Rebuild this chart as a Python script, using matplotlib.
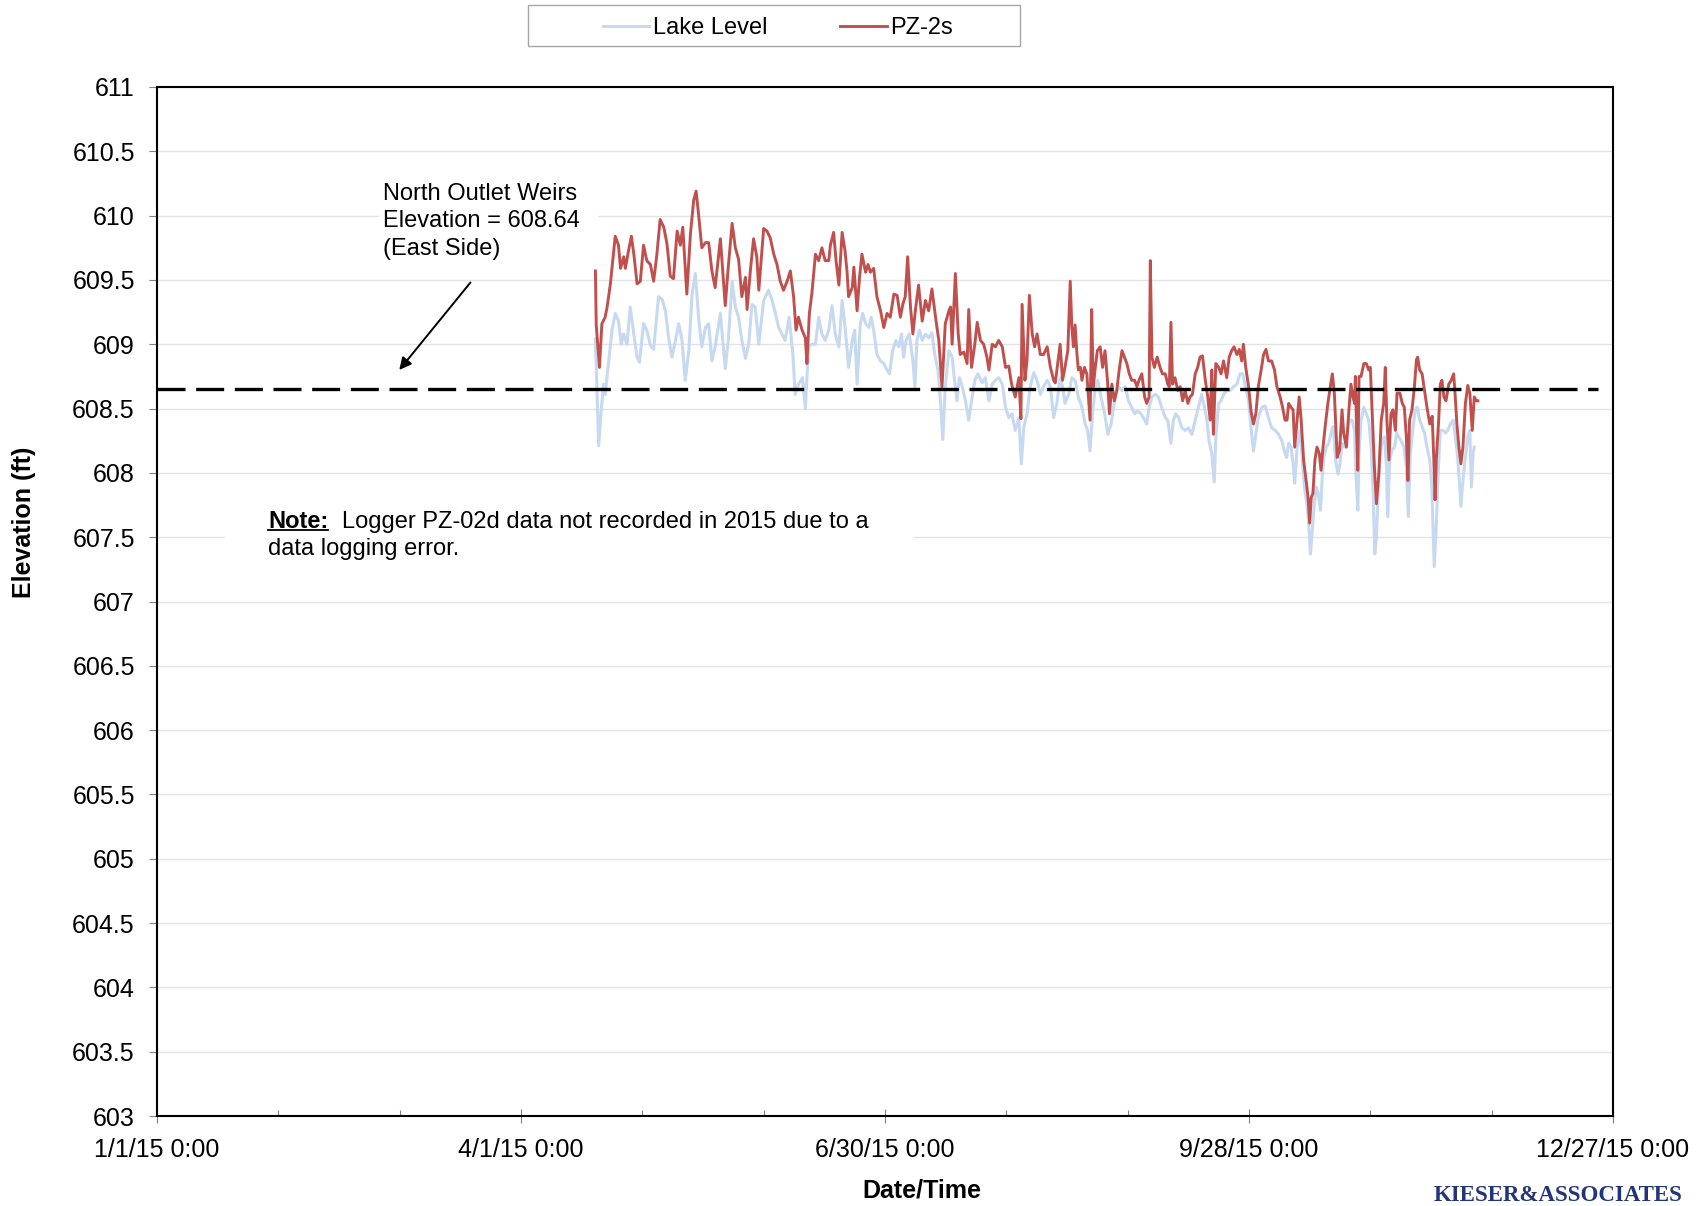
import datetime as dt
import numpy as np
import matplotlib
matplotlib.use("Agg")
import matplotlib.pyplot as plt
import matplotlib.dates as mdates
from matplotlib.patches import Rectangle
from matplotlib.ticker import FixedLocator, FuncFormatter

plt.rcParams['font.family'] = ['Liberation Sans', 'DejaVu Sans']

# days after 1/1/15 0:00 and elevation (ft)
pz_days_1 = [108.4, 108.6, 109.4, 110.0, 110.8, 111.3, 112.1, 113.3, 114.1, 114.6,
             115.4, 115.8, 116.6, 117.3, 117.9, 118.7, 119.5, 120.3, 121.1, 122.0,
             122.8, 123.6, 124.4, 125.3, 126.1, 126.9, 127.7, 128.6, 129.4, 130.0,
             131.0, 131.9, 132.7, 133.3, 133.9, 134.7, 135.6, 136.4, 137.2, 138.0,
             139.3, 140.5, 141.3, 142.2, 143.0, 143.8, 144.6, 145.5, 145.9, 146.7,
             147.5, 148.3, 148.8, 150.0, 150.8, 151.6, 152.5, 153.3, 154.1, 154.9,
             155.8, 156.6, 157.4, 158.0, 158.6, 159.5, 160.3, 160.7, 161.3, 161.9,
             162.8, 163.6, 164.4, 165.2]
pz_ft_1 = [609.57, 609.15, 608.82, 609.16, 609.21, 609.29, 609.47, 609.84, 609.77, 609.59,
           609.68, 609.59, 609.73, 609.84, 609.70, 609.47, 609.49, 609.77, 609.65, 609.62,
           609.49, 609.70, 609.97, 609.91, 609.78, 609.53, 609.51, 609.88, 609.77, 609.91,
           609.39, 609.86, 610.12, 610.19, 610.01, 609.75, 609.79, 609.79, 609.57, 609.44,
           609.82, 609.30, 609.62, 609.94, 609.75, 609.66, 609.37, 609.52, 609.27, 609.57,
           609.82, 609.68, 609.42, 609.90, 609.88, 609.83, 609.70, 609.62, 609.49, 609.42,
           609.49, 609.57, 609.37, 609.11, 609.21, 609.11, 609.05, 608.85, 609.24, 609.39,
           609.70, 609.65, 609.75, 609.65]

pz_days_2 = [166.1, 166.5, 167.3, 167.9, 168.6, 169.4, 170.1, 170.6, 171.0, 171.9,
             172.3, 173.1, 173.7, 174.3, 175.2, 175.8, 176.4, 177.2, 178.0, 178.9,
             179.7, 180.5, 181.3, 182.2, 183.0, 183.8, 184.4, 185.0, 185.6, 186.3,
             186.9, 187.5, 188.3, 189.2, 190.0, 190.8, 191.6, 192.5, 193.3, 194.1,
             194.9, 195.8, 196.2, 196.6, 197.4, 198.1, 198.6, 199.5, 200.3, 200.7,
             201.4, 202.2, 202.8, 203.6, 204.4, 205.2, 205.7, 206.5, 207.3, 208.1,
             209.0, 209.8, 210.6, 211.3, 212.2, 213.1, 213.6, 213.9, 214.6, 215.1,
             215.7, 216.4, 217.0, 217.6, 218.4, 219.2, 220.1, 220.9, 221.7, 222.1]
pz_ft_2 = [609.65, 609.77, 609.87, 609.65, 609.46, 609.87, 609.73, 609.57, 609.37, 609.44,
           609.60, 609.26, 609.52, 609.70, 609.56, 609.62, 609.56, 609.59, 609.37, 609.26,
           609.13, 609.24, 609.21, 609.39, 609.38, 609.21, 609.31, 609.37, 609.68, 609.29,
           609.08, 609.26, 609.46, 609.18, 609.34, 609.26, 609.43, 609.21, 609.03, 608.67,
           609.16, 609.26, 609.29, 609.00, 609.55, 609.08, 608.92, 608.94, 608.85, 609.27,
           608.82, 609.00, 609.17, 609.03, 609.00, 608.90, 608.80, 609.00, 608.98, 609.03,
           608.98, 608.82, 608.83, 608.69, 608.59, 608.74, 608.42, 609.31, 608.72, 608.87,
           609.38, 609.08, 608.98, 609.08, 608.92, 608.92, 608.98, 608.82, 608.72, 608.70]

pz_days_3 = [222.9, 223.3, 223.9, 224.5, 225.2, 225.8, 226.2, 226.6, 227.0, 227.4,
             227.8, 228.3, 228.7, 229.3, 229.9, 230.3, 230.7, 231.1, 231.5, 232.0,
             232.5, 233.2, 233.8, 234.4, 235.0, 235.5, 236.1, 236.7, 237.3, 237.9,
             238.6, 239.2, 239.8, 240.4, 241.0, 241.7, 242.3, 242.8, 243.5, 244.2,
             244.7, 245.3, 245.6, 246.0, 246.6, 247.3, 248.0, 248.6, 249.3, 249.9,
             250.3, 250.7, 251.1, 251.7, 252.4, 253.0, 253.6, 254.2, 254.9, 255.4,
             256.0, 256.7, 257.3, 257.9, 258.5, 259.2, 259.8, 260.4, 260.8, 261.2,
             261.8, 262.5, 263.1, 263.7, 264.5, 265.1, 265.7, 266.3, 267.0, 267.6,
             268.2, 268.6, 269.2, 269.9, 270.5, 271.1, 271.7, 272.3, 273.0, 273.6,
             274.2, 274.8, 275.6, 276.3, 276.9, 277.7, 278.3, 278.9]
pz_ft_3 = [608.90, 609.00, 608.72, 608.82, 608.95, 609.49, 609.13, 608.98, 609.15, 608.95,
           608.80, 608.82, 608.72, 608.82, 608.77, 608.59, 608.41, 609.27, 608.67, 608.82,
           608.95, 608.98, 608.82, 608.95, 608.72, 608.46, 608.69, 608.56, 608.64, 608.80,
           608.95, 608.90, 608.85, 608.77, 608.72, 608.72, 608.67, 608.72, 608.77, 608.59,
           608.54, 608.59, 609.65, 608.90, 608.82, 608.90, 608.82, 608.77, 608.77, 608.69,
           608.67, 609.17, 608.69, 608.74, 608.64, 608.67, 608.56, 608.64, 608.54, 608.59,
           608.61, 608.77, 608.82, 608.90, 608.91, 608.72, 608.59, 608.41, 608.80, 608.30,
           608.85, 608.82, 608.77, 608.87, 608.74, 608.90, 608.95, 608.98, 608.92, 608.96,
           608.87, 609.00, 608.82, 608.67, 608.48, 608.38, 608.46, 608.67, 608.80, 608.92,
           608.96, 608.87, 608.87, 608.80, 608.67, 608.59, 608.51, 608.41]

pz_days_4 = [279.4, 279.8, 280.4, 280.9, 281.3, 281.9, 282.4, 282.9, 283.5, 284.2,
             284.6, 285.0, 285.4, 285.8, 286.3, 286.8, 287.4, 287.8, 288.3, 288.9,
             289.5, 290.1, 290.6, 291.1, 291.8, 292.4, 293.0, 293.4, 294.1, 294.7,
             295.2, 295.7, 296.1, 296.3, 296.6, 296.9, 297.2, 297.7, 298.4, 299.0,
             299.6, 300.0, 300.4, 301.0, 301.5, 302.1, 302.7, 303.3, 303.7, 304.1,
             304.6, 305.1, 305.6, 306.2, 306.6, 307.3, 307.9, 308.4, 308.9, 309.3,
             309.7, 310.3, 310.9, 311.4, 311.7, 312.2, 312.8, 313.4, 314.0, 314.7,
             315.3, 315.7, 316.0, 316.3, 316.9, 317.3, 317.7, 318.2, 318.7, 319.4,
             320.0, 320.6, 321.0, 321.4, 321.9, 322.4, 322.9, 323.5, 324.1, 324.6,
             325.2, 325.7, 326.2, 326.6]
pz_ft_4 = [608.41, 608.54, 608.51, 608.49, 608.20, 608.41, 608.59, 608.41, 608.10, 607.92,
           607.81, 607.61, 607.81, 607.84, 608.10, 608.20, 608.15, 608.02, 608.20, 608.38,
           608.54, 608.67, 608.77, 608.62, 608.12, 608.18, 608.49, 608.31, 608.20, 608.49,
           608.69, 608.59, 608.54, 608.75, 608.33, 608.02, 608.75, 608.75, 608.85, 608.85,
           608.80, 608.82, 608.51, 608.05, 607.76, 607.99, 608.41, 608.54, 608.82, 608.41,
           608.10, 608.46, 608.49, 608.33, 608.62, 608.62, 608.54, 608.51, 608.28, 607.94,
           608.41, 608.49, 608.67, 608.88, 608.90, 608.80, 608.77, 608.64, 608.51, 608.38,
           608.44, 608.10, 607.79, 608.10, 608.41, 608.69, 608.72, 608.59, 608.56, 608.69,
           608.72, 608.77, 608.59, 608.38, 608.20, 608.07, 608.20, 608.54, 608.68, 608.62,
           608.33, 608.59, 608.56, 608.56]

lake_days_1 = [108.4, 109.2, 109.9, 110.4, 110.8, 111.7, 112.5, 113.3, 114.1, 114.8,
               115.4, 116.2, 117.0, 117.9, 118.7, 119.3, 120.3, 121.1, 122.0, 122.8,
               124.0, 124.9, 125.7, 126.5, 127.3, 128.2, 129.0, 129.8, 130.6, 131.5,
               132.3, 133.1, 133.9, 134.7, 135.6, 136.4, 137.2, 138.0, 139.3, 140.5,
               141.3, 142.2, 143.0, 143.8, 144.6, 145.5, 146.3, 147.1, 147.9, 148.8,
               150.0, 151.2, 152.1, 152.9, 153.7, 154.5, 155.3, 156.3, 157.2, 157.8,
               158.6, 159.6, 160.3, 161.1, 161.9, 162.8, 163.6, 164.4, 165.2]
lake_ft_1 = [609.04, 608.21, 608.51, 608.69, 608.61, 608.87, 609.11, 609.24, 609.18, 609.00,
             609.08, 609.00, 609.29, 609.08, 608.90, 608.86, 609.16, 609.11, 608.99, 608.96,
             609.37, 609.35, 609.26, 609.05, 608.90, 609.03, 609.16, 609.03, 608.72, 608.95,
             609.39, 609.55, 609.21, 608.98, 609.13, 609.16, 608.87, 608.98, 609.24, 608.81,
             609.05, 609.49, 609.29, 609.21, 609.03, 608.89, 609.00, 609.31, 609.29, 609.00,
             609.34, 609.42, 609.34, 609.24, 609.13, 609.08, 609.03, 609.21, 608.93, 608.61,
             608.69, 608.74, 608.50, 608.98, 609.00, 609.00, 609.21, 609.08, 609.03]

lake_days_2 = [166.1, 166.9, 167.7, 168.6, 169.4, 170.2, 171.0, 171.9, 172.5, 173.1,
               173.9, 174.5, 175.2, 176.0, 176.6, 177.2, 178.0, 178.9, 179.7, 180.5,
               181.1, 181.9, 182.7, 183.4, 184.1, 184.6, 185.2, 186.0, 186.9, 187.4,
               187.9, 188.5, 189.2, 190.0, 190.8, 191.6, 192.3, 193.1, 193.7, 194.3,
               194.9, 195.8, 196.6, 197.2, 197.8, 198.4, 199.1, 199.9, 200.7, 201.4,
               202.2, 203.0, 204.0, 204.8, 205.7, 206.5, 207.3, 208.1, 209.0, 209.8,
               210.6, 211.4, 212.2, 213.1, 213.7, 214.3, 215.1, 215.9, 216.8, 217.6,
               218.4, 219.2, 220.1, 220.9, 221.7]
lake_ft_2 = [609.11, 609.30, 609.08, 608.98, 609.34, 609.11, 608.82, 609.03, 609.11, 608.69,
             609.16, 609.24, 609.16, 609.13, 609.21, 609.11, 608.92, 608.87, 608.85, 608.80,
             608.77, 608.95, 609.03, 608.98, 609.08, 608.90, 609.03, 609.08, 608.87, 608.67,
             609.03, 609.11, 609.03, 609.08, 609.05, 609.09, 608.92, 608.80, 608.56, 608.26,
             608.67, 608.95, 608.90, 608.72, 608.56, 608.74, 608.67, 608.56, 608.41, 608.56,
             608.72, 608.77, 608.70, 608.74, 608.56, 608.69, 608.72, 608.74, 608.69, 608.51,
             608.43, 608.46, 608.33, 608.43, 608.07, 608.35, 608.46, 608.67, 608.78, 608.72,
             608.61, 608.67, 608.72, 608.67, 608.43]

lake_days_3 = [222.5, 223.3, 223.9, 224.5, 225.4, 226.2, 227.0, 227.8, 228.7, 229.5,
               230.1, 230.7, 231.3, 232.0, 232.6, 233.4, 234.3, 235.1, 235.9, 236.5,
               237.1, 237.7, 238.6, 239.4, 240.2, 241.0, 241.7, 242.5, 243.3, 244.2,
               244.7, 245.3, 246.0, 246.8, 247.6, 248.4, 249.3, 249.9, 250.7, 251.3,
               251.9, 252.6, 253.4, 254.2, 255.0, 255.9, 256.7, 257.5, 258.3, 259.0,
               259.6, 260.1, 260.8, 261.4, 261.8, 262.5, 263.1, 263.7, 264.5, 265.3,
               266.2, 267.0, 267.8, 268.5, 269.0, 269.9, 270.5, 271.1, 271.7, 272.3,
               273.2, 274.0, 274.8, 275.6, 276.5, 277.3, 278.1, 278.9]
lake_ft_3 = [608.54, 608.74, 608.67, 608.54, 608.61, 608.74, 608.72, 608.59, 608.51, 608.38,
             608.33, 608.17, 608.46, 608.67, 608.72, 608.59, 608.46, 608.30, 608.38, 608.51,
             608.61, 608.67, 608.64, 608.67, 608.56, 608.51, 608.46, 608.48, 608.46, 608.41,
             608.38, 608.51, 608.59, 608.61, 608.59, 608.51, 608.43, 608.41, 608.23, 608.41,
             608.46, 608.43, 608.35, 608.33, 608.35, 608.30, 608.41, 608.51, 608.61, 608.51,
             608.41, 608.25, 608.15, 607.93, 608.28, 608.54, 608.56, 608.61, 608.64, 608.64,
             608.67, 608.69, 608.77, 608.77, 608.69, 608.56, 608.35, 608.17, 608.30, 608.43,
             608.51, 608.52, 608.43, 608.35, 608.33, 608.30, 608.25, 608.15]

lake_days_4 = [279.3, 279.8, 280.4, 280.9, 281.3, 281.9, 282.6, 283.1, 283.7, 284.4,
               284.8, 285.2, 285.6, 286.0, 286.6, 287.1, 287.7, 288.1, 288.5, 289.1,
               289.7, 290.3, 290.8, 291.4, 292.0, 292.4, 293.0, 293.6, 294.3, 294.9,
               295.5, 296.1, 296.4, 296.9, 297.2, 297.7, 298.4, 299.0, 299.6, 300.2,
               300.7, 301.1, 301.5, 301.8, 302.3, 302.9, 303.5, 304.0, 304.3, 304.8,
               305.4, 306.0, 306.5, 307.0, 307.6, 308.3, 308.9, 309.4, 309.9, 310.6,
               311.1, 311.6, 312.2, 312.8, 313.4, 314.0, 314.7, 315.2, 315.5, 315.8,
               316.3, 316.8, 317.3, 318.0, 318.6, 319.1, 319.8, 320.5, 320.9, 321.5,
               322.0, 322.4, 322.9, 323.5, 324.1, 324.6, 325.0, 325.4, 325.7]
lake_ft_4 = [608.12, 608.23, 608.20, 608.07, 607.92, 608.20, 608.33, 608.15, 607.89, 607.74,
             607.58, 607.37, 607.53, 607.71, 607.89, 607.84, 607.71, 607.97, 608.12, 608.20,
             608.23, 608.31, 608.36, 608.10, 607.99, 608.05, 608.23, 608.20, 608.33, 608.41,
             608.41, 608.33, 608.02, 607.71, 608.15, 608.41, 608.51, 608.46, 608.41, 608.20,
             607.84, 607.37, 607.50, 607.74, 608.10, 608.25, 608.28, 608.05, 607.66, 608.10,
             608.18, 608.20, 608.31, 608.28, 608.25, 608.20, 608.05, 607.66, 608.15, 608.36,
             608.49, 608.51, 608.41, 608.36, 608.31, 608.20, 608.10, 607.89, 607.58, 607.27,
             607.58, 608.02, 608.33, 608.33, 608.31, 608.33, 608.38, 608.41, 608.31, 608.15,
             607.94, 607.74, 607.94, 608.12, 608.28, 608.33, 607.89, 608.15, 608.20]

weir_days = [0, 356.3]
weir_ft = 608.65

tick_days = [0, 90, 180, 270, 360]
minor_days = [30, 60, 120, 150, 210, 240, 300, 330]
y_ticks = np.arange(603, 611.01, 0.5)

start = mdates.date2num(dt.datetime(2015, 1, 1))
pz_x = start + np.array(pz_days_1 + pz_days_2 + pz_days_3 + pz_days_4)
pz_y = np.array(pz_ft_1 + pz_ft_2 + pz_ft_3 + pz_ft_4)
lake_x = start + np.array(lake_days_1 + lake_days_2 + lake_days_3 + lake_days_4)
lake_y = np.array(lake_ft_1 + lake_ft_2 + lake_ft_3 + lake_ft_4)

fig = plt.figure(figsize=(17.05, 12.06), dpi=100)
ax = fig.add_axes([157/1705, 1-1116/1206, 1456/1705, 1029/1206])

l1, = ax.plot(lake_x, lake_y, color='#c6d9f1', lw=2.2, zorder=2, label='Lake Level')
l2, = ax.plot(pz_x, pz_y, color='#c0504d', lw=2.1, zorder=3, label='PZ-2s')
ax.plot(start + np.array(weir_days), [weir_ft, weir_ft], color='black', lw=2.4,
        dashes=(8.4, 3.2), zorder=4)

ax.set_xlim(start, start + 360)
ax.set_ylim(603, 611)
ax.set_yticks(y_ticks)
ax.yaxis.set_major_formatter(FuncFormatter(lambda v, p: '%g' % v))
ax.grid(axis='y', color='#e3e3e3', lw=1.0)
ax.set_axisbelow(True)

def date_lab(v, p):
    d = mdates.num2date(v)
    return '%d/%d/%02d 0:00' % (d.month, d.day, d.year % 100)

ax.xaxis.set_major_locator(FixedLocator([start + d for d in tick_days]))
ax.xaxis.set_minor_locator(FixedLocator([start + d for d in minor_days]))
ax.xaxis.set_major_formatter(FuncFormatter(date_lab))
ax.tick_params(axis='x', which='major', direction='inout', length=10, width=0.8,
               color='#808080', labelsize=18, pad=10.5)
ax.tick_params(axis='x', which='minor', direction='in', length=4.5, width=0.8,
               color='#808080')
ax.tick_params(axis='y', direction='out', length=5.5, width=0.8, color='#808080',
               labelsize=18, pad=10.5)
for s in ax.spines.values():
    s.set_color('black')
    s.set_linewidth(1.5)

# text boxes (white background behind the notes)
ax.add_patch(Rectangle((start + 54.8, 609.62), 54.3, 0.72, facecolor='white',
                       edgecolor='none', zorder=1))
ax.text(start + 55.9, 609.955, 'North Outlet Weirs\nElevation = 608.64\n(East Side)',
        fontsize=17, va='center', ha='left', linespacing=1.3, zorder=5)
ax.annotate('', xy=(start + 59.9, 608.80), xytext=(start + 77.5, 609.48),
            arrowprops=dict(arrowstyle='-|>', color='black', lw=1.4,
                            mutation_scale=18, shrinkA=0, shrinkB=0), zorder=5)

ax.add_patch(Rectangle((start + 16.9, 607.28), 170, 0.45, facecolor='white',
                       edgecolor='none', zorder=1))
ax.text(start + 27.5, 607.575, 'Note:', fontsize=17, fontweight='bold', va='baseline')
ax.plot([start + 27.5, start + 42.3], [607.552, 607.552], color='black', lw=1.3)
ax.text(start + 45.7, 607.575, 'Logger PZ-02d data not recorded in 2015 due to a',
        fontsize=17, va='baseline')
ax.text(start + 27.5, 607.36, 'data logging error.', fontsize=17, va='baseline')

fig.text(24/1705, 1-522/1206, 'Elevation (ft)', rotation=90, fontsize=18,
         fontweight='bold', ha='center', va='center')
fig.text(922/1705, 1-1190/1206, 'Date/Time', fontsize=18, fontweight='bold',
         ha='center', va='center')

fig.legend([l1, l2], ['Lake Level', 'PZ-2s'], loc='center',
           bbox_to_anchor=(778/1705, 1-28/1206), ncol=2, frameon=False, fontsize=17,
           handlelength=1.95, handletextpad=0.17, columnspacing=3.1, borderpad=0.2)
fig.add_artist(Rectangle((528/1705, 1-46/1206), 492/1705, 41/1206,
                         transform=fig.transFigure, fill=False,
                         edgecolor='#a6a6a6', lw=1.0))

fig.text(1434/1705, 1-1185/1206, 'KIESER&ASSOCIATES', fontsize=16.5,
         family=['Liberation Serif', 'DejaVu Serif'], fontweight='bold',
         color='#23357a', ha='left', va='top')

fig.savefig('out.png', dpi=100)
